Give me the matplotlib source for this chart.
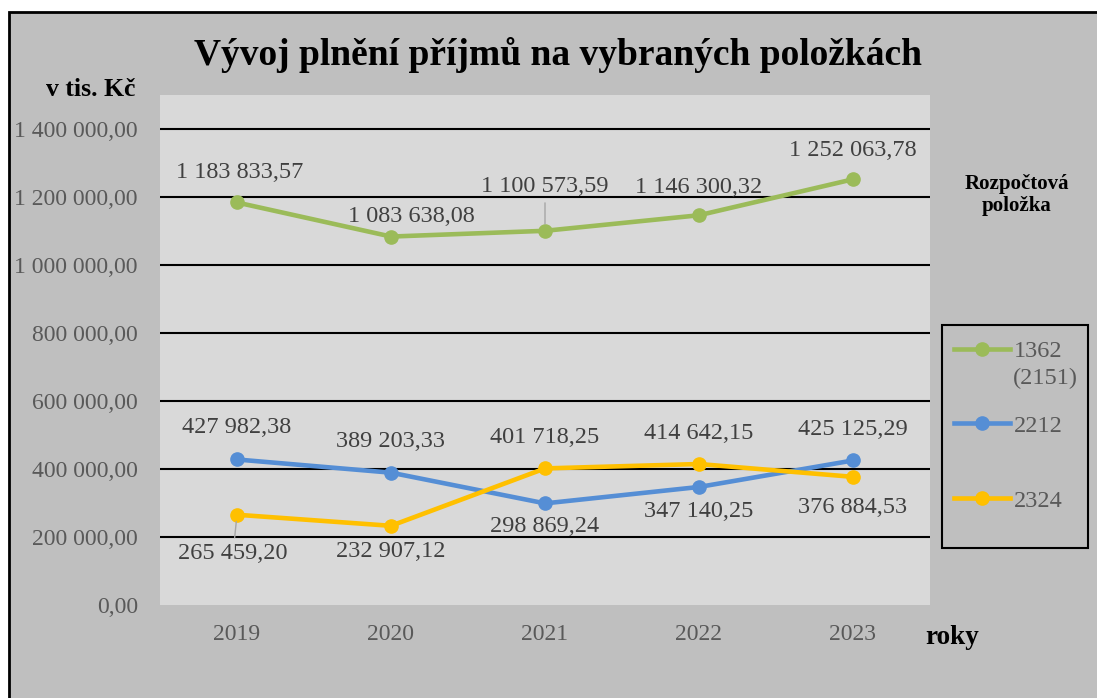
import matplotlib.pyplot as plt
from matplotlib.patches import Rectangle

plt.rcParams['font.family'] = ['Liberation Serif', 'DejaVu Serif']

years = ['2019', '2020', '2021', '2022', '2023']
s1362 = [1183833.57, 1083638.08, 1100573.59, 1146300.32, 1252063.78]
s2212 = [427982.38, 389203.33, 298869.24, 347140.25, 425125.29]
s2324 = [265459.20, 232907.12, 401718.25, 414642.15, 376884.53]
names = ['1362', '2212', '2324']
yticks = [0, 200000, 400000, 600000, 800000, 1000000, 1200000, 1400000]


def fmt(v):
    s = f"{v:,.2f}"
    return s.replace(',', ' ').replace('.', ',')


W, H = 1097, 698
fig = plt.figure(figsize=(W / 100, H / 100), dpi=100)
fig.patch.set_facecolor('white')
fig.patches.append(Rectangle((9 / W, -0.05), 1.1, 1 - 12 / H + 0.05,
                             transform=fig.transFigure, facecolor='#bfbfbf',
                             edgecolor='black', lw=2, zorder=-10))

ax = fig.add_axes([160 / W, 1 - 605 / H, 770 / W, 510 / H])
ax.set_facecolor('#d9d9d9')
for sp in ax.spines.values():
    sp.set_visible(False)

x = list(range(len(years)))
colors = ['#9bbb59', '#558ed5', '#ffc000']
series = [s1362, s2212, s2324]
for s, c, n in zip(series, colors, names):
    ax.plot(x, s, color=c, lw=3.3, marker='o', ms=9.5, label=n, zorder=3)

# label offsets in pixels (dx, dy)
offs = [
    [(3, 30), (20, 20), (0, 44), (0, 28), (0, 29)],
    [(0, 32), (0, 31), (0, -23), (0, -25), (0, 31)],
    [(-4, -39), (0, -26), (0, 31), (0, 31), (0, -31)],
]
leaders = {(0, 2), (2, 0)}
for si, s in enumerate(series):
    for i, v in enumerate(s):
        dx, dy = offs[si][i]
        kw = {}
        if (si, i) in leaders:
            kw['arrowprops'] = dict(arrowstyle='-', color='#a6a6a6', lw=1,
                                    shrinkA=2, shrinkB=5)
        ax.annotate(fmt(v), (i, v), xytext=(dx, dy), textcoords='offset pixels',
                    ha='center', va='center', fontsize=17.5, color='#404040', **kw)

ax.set_xlim(-0.5, 4.5)
ax.set_ylim(0, 1500000)
ax.set_xticks(x)
ax.set_xticklabels(years)
ax.set_yticks(yticks)
ax.set_yticklabels([fmt(t) for t in yticks])
ax.tick_params(length=0, labelsize=17, labelcolor='#595959')
ax.tick_params(axis='y', pad=16)
ax.tick_params(axis='x', pad=14)
for t in yticks[1:]:
    ax.axhline(t, color='black', lw=1.5, zorder=1)

fig.text(558 / W, 1 - 55 / H, 'Vývoj plnění příjmů na vybraných položkách',
         ha='center', va='center', fontsize=27, fontweight='bold')
fig.text(91 / W, 1 - 89 / H, 'v tis. Kč', ha='center', va='center',
         fontsize=18.5, fontweight='bold')
fig.text(952 / W, 1 - 637 / H, 'roky', ha='center', va='center',
         fontsize=19.5, fontweight='bold')
fig.text(1017 / W, 1 - 195 / H, 'Rozpočtová\npoložka', ha='center',
         va='center', fontsize=15, fontweight='bold', linespacing=1.2)

# legend frame
fig.patches.append(Rectangle((942 / W, 1 - 548 / H), 146 / W, 223 / H,
                             transform=fig.transFigure, facecolor='none',
                             edgecolor='black', lw=1.5))
leg = fig.legend(loc='upper left', bbox_to_anchor=(954 / W, 1 - 340 / H),
                 fontsize=17.5, labelcolor='#595959', frameon=False,
                 handlelength=2.3, labelspacing=2.17, borderpad=0,
                 handletextpad=0.15, borderaxespad=0)
fig.text(1013 / W, 1 - 378 / H, '(2151)', ha='left', va='center',
         fontsize=17.5, color='#595959')

fig.savefig('out.png', dpi=100, facecolor=fig.get_facecolor())
